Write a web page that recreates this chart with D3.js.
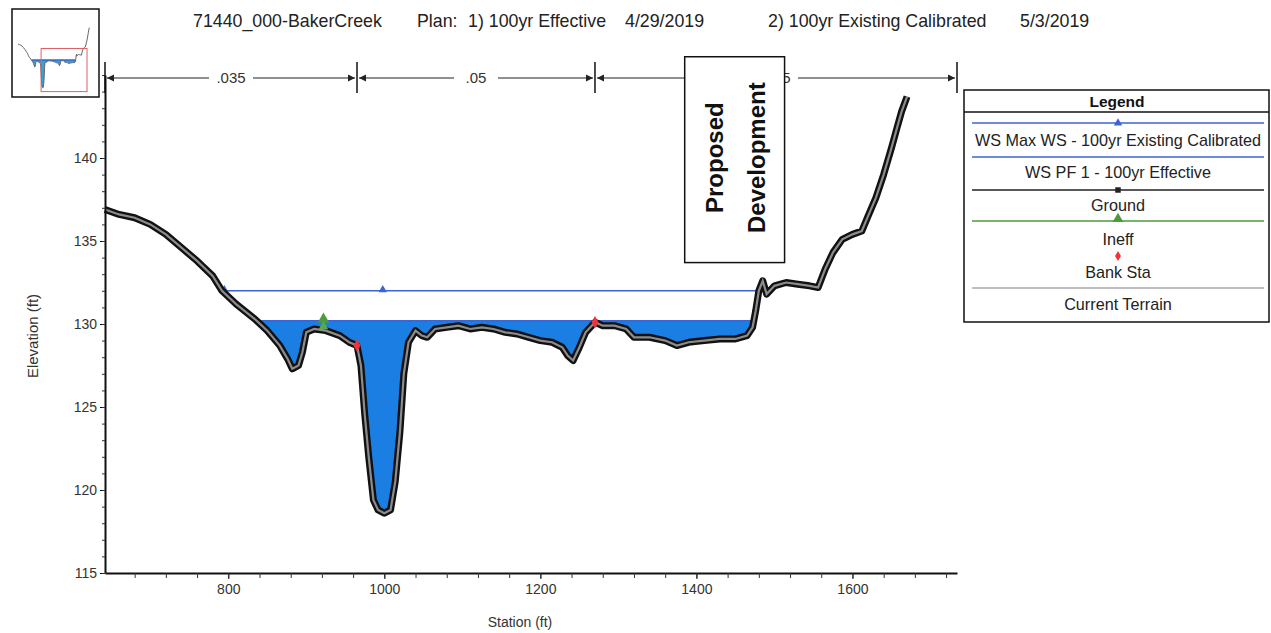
<!DOCTYPE html>
<html>
<head>
<meta charset="utf-8">
<script src="https://cdn.jsdelivr.net/npm/d3@7/dist/d3.min.js"></script>
<style>
  body { margin: 0; background: #fff; }
  svg { display: block; font-family: "Liberation Sans", Arial, sans-serif; }
</style>
</head>
<body>
<svg id="chart" width="1271" height="633"></svg>
<script>
// ground profile, station (ft) / elevation (ft)
var groundSta = [642,660,680,700,720,740,760,780,792,810,834,850,866,876,882,890,895,900,910,925,943,955,965,
  970,975,980,986,992,1000,1008,1014,1020,1025,1031,1040,1048,1055,1065,1080,1095,1110,1125,1140,1155,1170,
  1185,1200,1215,1228,1235,1242,1250,1258,1270,1280,1295,1310,1320,1340,1360,1375,1390,1410,1430,1450,1465,
  1472,1476,1480,1485,1490,1500,1515,1530,1545,1556,1565,1575,1587,1600,1612,1620,1630,1640,1650,1657,1663,1670];
var groundElev = [136.9,136.6,136.4,136.0,135.4,134.6,133.8,132.9,132.0,131.2,130.3,129.6,128.7,127.9,127.3,127.5,128.3,
  129.5,129.7,129.6,129.3,128.9,128.7,127.5,124.5,122.0,119.4,118.8,118.6,118.8,120.5,123.5,127.0,128.9,129.6,129.3,
  129.2,129.7,129.8,129.9,129.7,129.8,129.7,129.5,129.4,129.2,129.0,128.9,128.6,128.1,127.8,128.6,129.5,130.1,129.9,
  129.9,129.7,129.2,129.2,129.0,128.7,128.9,129.0,129.1,129.1,129.3,129.8,130.8,132.0,132.6,131.8,132.3,132.5,132.4,
  132.3,132.2,133.3,134.3,135.1,135.4,135.6,136.5,137.6,139.0,140.6,141.8,142.8,143.7];

var wsMaxElev = 132.0;   // WS Max WS - 100yr Existing Calibrated
var wsPf1Elev = 130.2;   // WS PF 1 - 100yr Effective
var wsMaxMarkerSta = [795, 998, 1490];

var bankSta = [965, 1270];
var bankElev = [128.7, 130.1];
var ineffSta = [922];
var ineffElev = [130.4];

var nValues = [".035", ".05", ".035"];
var nBreaks = [642, 965, 1270, 1734];

var annoSta = [1385, 1513];      // "Proposed Development" box
var annoElev = [133.7, 146.1];
var annoLines = ["Proposed", "Development"];

var xTicks = [800, 1000, 1200, 1400, 1600];
var yTicks = [115, 120, 125, 130, 135, 140];

var titleParts = ["71440_000-BakerCreek", "Plan:", "1) 100yr Effective", "4/29/2019", "2) 100yr Existing Calibrated", "5/3/2019"];
var titleX = [193, 417, 468, 625, 768, 1020];

var legendNames = ["WS Max WS - 100yr Existing Calibrated", "WS PF 1 - 100yr Effective", "Ground", "Ineff", "Bank Sta", "Current Terrain"];

// key map view window (station / elevation)
var keyViewSta = [975, 1637];
var keyViewElev = [117, 135];

var ground = groundSta.map(function(s, i){ return {s: s, e: groundElev[i]}; });

var svg = d3.select("#chart");
var x = d3.scaleLinear().domain([642, 1734]).range([105, 957]);
var y = d3.scaleLinear().domain([115, 145]).range([573, 75]);

var wsBlue = "#3d63d4", fillBlue = "#1b7ee3";

// ground points with water-surface crossings inserted
function withCrossings(ws){
  var out = [], cross = [];
  ground.forEach(function(p, i){
    if(i > 0){
      var q = ground[i-1];
      if((q.e < ws) !== (p.e < ws)){
        var s = q.s + (ws - q.e) / (p.e - q.e) * (p.s - q.s);
        out.push({s: s, e: ws});
        cross.push(s);
      }
    }
    out.push(p);
  });
  return {pts: out, cross: cross};
}

// title
svg.append("g").selectAll("text").data(titleParts).enter().append("text")
  .attr("x", function(d, i){ return titleX[i]; })
  .attr("y", 27)
  .attr("font-size", 17.8)
  .attr("fill", "#222")
  .text(function(d){ return d; });

// wet area for PF 1
var pf = withCrossings(wsPf1Elev);
svg.append("path")
  .datum(pf.pts)
  .attr("fill", fillBlue)
  .attr("d", d3.area()
    .x(function(d){ return x(d.s); })
    .y0(function(d){ return y(Math.min(d.e, wsPf1Elev)); })
    .y1(function(d){ return y(wsPf1Elev); }));

svg.append("line")
  .attr("x1", x(d3.min(pf.cross))).attr("x2", x(d3.max(pf.cross)))
  .attr("y1", y(wsPf1Elev)).attr("y2", y(wsPf1Elev))
  .attr("stroke", wsBlue).attr("stroke-width", 1.5);

// WS max line
var mx = withCrossings(wsMaxElev);
svg.append("line")
  .attr("x1", x(d3.min(mx.cross))).attr("x2", x(d3.max(mx.cross)))
  .attr("y1", y(wsMaxElev)).attr("y2", y(wsMaxElev))
  .attr("stroke", wsBlue).attr("stroke-width", 1.5);
svg.append("g").selectAll("path").data(wsMaxMarkerSta).enter().append("path")
  .attr("d", d3.symbol(d3.symbolTriangle, 30))
  .attr("transform", function(d){ return "translate(" + x(d) + "," + (y(wsMaxElev) - 1) + ")"; })
  .attr("fill", wsBlue);

// ground: thick black with grey terrain line on top
var gLine = d3.line().x(function(d){ return x(d.s); }).y(function(d){ return y(d.e); });
svg.append("path").datum(ground)
  .attr("d", gLine).attr("fill", "none")
  .attr("stroke", "#111").attr("stroke-width", 7).attr("stroke-linejoin", "round");
svg.append("path").datum(ground)
  .attr("d", gLine).attr("fill", "none")
  .attr("stroke", "#8c8c8c").attr("stroke-width", 2.2);

// ineffective flow marker
ineffSta.forEach(function(s, i){
  svg.append("path")
    .attr("d", d3.symbol(d3.symbolTriangle, 60))
    .attr("transform", "translate(" + x(s) + "," + (y(ineffElev[i]) + 2) + ")")
    .attr("fill", "#4c9a3c");
  svg.append("path")
    .attr("d", d3.symbol(d3.symbolTriangle, 40))
    .attr("transform", "translate(" + x(s) + "," + (y(ineffElev[i]) + 9) + ")")
    .attr("fill", "#5aa848");
});

// bank stations
svg.append("g").selectAll("path").data(bankSta).enter().append("path")
  .attr("d", d3.symbol(d3.symbolDiamond, 45))
  .attr("transform", function(d, i){ return "translate(" + x(d) + "," + y(bankElev[i]) + ")"; })
  .attr("fill", "#f0323c");

// axes
var yAxis = svg.append("g").attr("transform", "translate(" + x.range()[0] + ",0)")
  .call(d3.axisLeft(y).tickValues(yTicks).tickSize(5).tickSizeOuter(0).tickPadding(3));
yAxis.select(".domain").attr("stroke", "#111").attr("stroke-width", 2);
yAxis.selectAll("text").attr("font-size", 14).attr("fill", "#333").attr("font-family", "Liberation Sans, Arial");
svg.append("g").attr("transform", "translate(" + x.range()[0] + ",0)")
  .call(d3.axisLeft(y).ticks(30).tickSize(3).tickFormat(""))
  .call(function(g){ g.select(".domain").remove(); })
  .selectAll("line").attr("stroke", "#333");

var xAxis = svg.append("g").attr("transform", "translate(0," + y.range()[0] + ")")
  .call(d3.axisBottom(x).tickValues(xTicks).tickFormat(d3.format("d")).tickSize(6).tickSizeOuter(0).tickPadding(5));
xAxis.select(".domain").attr("stroke", "#111").attr("stroke-width", 2);
xAxis.selectAll("text").attr("font-size", 14).attr("fill", "#333").attr("font-family", "Liberation Sans, Arial");
svg.append("g").attr("transform", "translate(0," + y.range()[0] + ")")
  .call(d3.axisBottom(x).tickValues(d3.range(680, 1734, 40)).tickSize(5).tickFormat(""))
  .call(function(g){ g.select(".domain").remove(); })
  .selectAll("line").attr("stroke", "#333");

svg.append("text").attr("x", 520).attr("y", 627).attr("text-anchor", "middle")
  .attr("font-size", 14).attr("fill", "#333").text("Station (ft)");
svg.append("text").attr("transform", "translate(38,336) rotate(-90)").attr("text-anchor", "middle")
  .attr("font-size", 15).attr("fill", "#333").text("Elevation (ft)");

// Manning's n bar
var nY = 78;
var nBar = svg.append("g");
nBreaks.forEach(function(b){
  nBar.append("line").attr("x1", x(b)).attr("x2", x(b)).attr("y1", nY - 16).attr("y2", nY + 15)
    .attr("stroke", "#111").attr("stroke-width", 1.5);
});
nValues.forEach(function(v, i){
  var a = x(nBreaks[i]) + 2, b = x(nBreaks[i+1]) - 2, m = (a + b) / 2;
  nBar.append("line").attr("x1", a).attr("x2", b).attr("y1", nY).attr("y2", nY)
    .attr("stroke", "#222").attr("stroke-width", 1.2);
  nBar.append("path").attr("d", "M" + a + "," + nY + "l7,-3.5v7z").attr("fill", "#222");
  nBar.append("path").attr("d", "M" + b + "," + nY + "l-7,-3.5v7z").attr("fill", "#222");
  nBar.append("rect").attr("x", m - 22).attr("y", nY - 9).attr("width", 44).attr("height", 18).attr("fill", "#fff");
  nBar.append("text").attr("x", m).attr("y", nY + 5).attr("text-anchor", "middle")
    .attr("font-size", 15).attr("fill", "#333").text(v);
});

// Proposed Development annotation
var ax0 = x(annoSta[0]), ax1 = x(annoSta[1]), ay0 = y(annoElev[1]), ay1 = y(annoElev[0]);
svg.append("rect").attr("x", ax0).attr("y", ay0).attr("width", ax1 - ax0).attr("height", ay1 - ay0)
  .attr("fill", "#fff").attr("stroke", "#111").attr("stroke-width", 1.5);
annoLines.forEach(function(t, i){
  var cx = ax0 + (ax1 - ax0) * (0.3 + 0.42 * i) + 8, cy = (ay0 + ay1) / 2 - 2;
  svg.append("text").attr("transform", "translate(" + cx + "," + cy + ") rotate(-90)")
    .attr("text-anchor", "middle").attr("font-size", 24).attr("font-weight", "bold")
    .attr("fill", "#111").text(t);
});

// legend
var lg = svg.append("g");
lg.append("rect").attr("x", 964).attr("y", 90).attr("width", 305).attr("height", 232)
  .attr("fill", "#fff").attr("stroke", "#111").attr("stroke-width", 1.5);
lg.append("text").attr("x", 1117).attr("y", 107).attr("text-anchor", "middle")
  .attr("font-size", 15.5).attr("font-weight", "bold").attr("fill", "#111").text("Legend");
lg.append("line").attr("x1", 964).attr("x2", 1269).attr("y1", 112).attr("y2", 112).attr("stroke", "#111").attr("stroke-width", 1.5);
var symY = [123, 157, 190, 221, 256, 288];
var txtY = [146, 178, 211, 245, 278, 310];
var symColor = [wsBlue, wsBlue, "#222", "#4c9a3c", "#f0323c", "#aaa"];
var symShape = [d3.symbolTriangle, null, d3.symbolSquare, d3.symbolTriangle, d3.symbolDiamond, null];
legendNames.forEach(function(n, i){
  if(i !== 4){
    lg.append("line").attr("x1", 972).attr("x2", 1264).attr("y1", symY[i]).attr("y2", symY[i])
      .attr("stroke", symColor[i]).attr("stroke-width", 1.5);
  }
  if(symShape[i]){
    lg.append("path").attr("d", d3.symbol(symShape[i], i === 3 ? 50 : 30))
      .attr("transform", "translate(1118," + (symY[i] - (i === 3 ? 2 : 0)) + ")")
      .attr("fill", symColor[i]);
  }
  lg.append("text").attr("x", 1118).attr("y", txtY[i]).attr("text-anchor", "middle")
    .attr("font-size", 16.2).attr("fill", "#222").text(n);
});

// key map thumbnail
var tx = d3.scaleLinear().domain([642, 1680]).range([18, 90]);
var ty = d3.scaleLinear().domain([116, 142]).range([94, 31.7]);
var th = svg.append("g");
th.append("rect").attr("x", 12).attr("y", 9).attr("width", 87).attr("height", 88)
  .attr("fill", "#fff").attr("stroke", "#111").attr("stroke-width", 1.5);
th.append("path").datum(pf.pts).attr("fill", "#2aa6d8")
  .attr("d", d3.area().x(function(d){ return tx(d.s); })
    .y0(function(d){ return ty(Math.min(d.e, wsPf1Elev)); }).y1(function(d){ return ty(wsPf1Elev); }));
th.append("line").attr("x1", tx(d3.min(pf.cross))).attr("x2", tx(d3.max(pf.cross)))
  .attr("y1", ty(wsPf1Elev)).attr("y2", ty(wsPf1Elev)).attr("stroke", wsBlue).attr("stroke-width", 1.5);
th.append("path").datum(ground).attr("fill", "none").attr("stroke", "#666").attr("stroke-width", 1)
  .attr("d", d3.line().x(function(d){ return tx(d.s); }).y(function(d){ return ty(d.e); }));
th.append("rect").attr("x", tx(keyViewSta[0])).attr("y", ty(keyViewElev[1]))
  .attr("width", tx(keyViewSta[1]) - tx(keyViewSta[0])).attr("height", ty(keyViewElev[0]) - ty(keyViewElev[1]))
  .attr("fill", "none").attr("stroke", "#e06060").attr("stroke-width", 1);
</script>
</body>
</html>
